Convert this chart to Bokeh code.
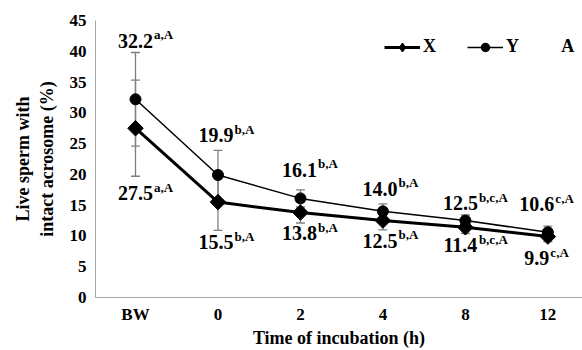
import math
from bokeh.plotting import figure
from bokeh.models import (Range1d, FixedTicker, ColumnDataSource, Whisker, TeeHead,
                          Legend, LegendItem, Label)
from bokeh.core.properties import value
from bokeh.embed import file_html
from bokeh.resources import INLINE

# ---- data ----
categories = ["BW", "0", "2", "4", "8", "12"]
x_mean = [27.5, 15.5, 13.8, 12.5, 11.4, 9.9]
x_err = [7.8, 4.6, 1.7, 1.5, 1.0, 0.8]
y_mean = [32.2, 19.9, 16.1, 14.0, 12.5, 10.6]
y_err = [7.6, 4.0, 1.4, 1.2, 0.9, 1.0]
x_letters = ["a,A", "b,A", "b,A", "b,A", "b,c,A", "c,A"]
y_letters = ["a,A", "b,A", "b,A", "b,A", "b,c,A", "c,A"]
y_ticks = [0, 5, 10, 15, 20, 25, 30, 35, 40, 45]

# ---- styling (pixel offsets of the value labels) ----
label_dx = [0, -2, -1, -3, -5, -11]
y_label_dy = [-12, -15, -20, -15, -12, -22]
x_label_dy = [17, 12, 10, 11, 12, 17]

FONT = "'Liberation Serif', 'Times New Roman', serif"
NUM_FS = 20
SUP_FS = 13
AXIS_GRAY = "#a6a6a6"
ERR_GRAY = "#7f7f7f"

pos = list(range(len(categories)))

p = figure(width=582, height=350, output_backend="svg", toolbar_location=None,
           x_range=Range1d(-0.485, 5.42), y_range=Range1d(0, 45),
           min_border_left=95, min_border_top=20, min_border_bottom=53, min_border_right=0)
p.outline_line_color = None
p.grid.grid_line_color = None
p.background_fill_color = "white"

# axes
for ax in (p.xaxis, p.yaxis):
    ax.axis_line_color = AXIS_GRAY
    ax.major_tick_line_color = None
    ax.minor_tick_line_color = None
    ax.major_tick_out = 0
    ax.major_tick_in = 0
    ax.minor_tick_out = 0
    ax.minor_tick_in = 0
    ax.major_label_text_font = FONT
    ax.major_label_text_font_style = "bold"
    ax.major_label_text_font_size = "17px"
    ax.major_label_text_color = "black"
    ax.axis_label_text_font = FONT
    ax.axis_label_text_font_style = "bold"
    ax.axis_label_text_font_size = "18px"
    ax.axis_label_text_color = "black"

p.xaxis.ticker = FixedTicker(ticks=pos)
p.xaxis.major_label_overrides = {i: c for i, c in zip(pos, categories)}
p.xaxis.major_label_standoff = 7
p.xaxis.axis_label = "Time of incubation (h)"
p.xaxis.axis_label_standoff = 1

p.yaxis.ticker = FixedTicker(ticks=y_ticks)
p.yaxis.major_label_standoff = 9
p.yaxis.axis_label = "Live sperm with\nintact acrosome (%)"
p.yaxis.axis_label_standoff = 10


def num_width(s, fs):
    return sum(0.25 * fs if ch == "." else 0.5 * fs for ch in s)


def series(mean, err, letters, dy_list, lw, marker, msize, angle, cap_sign,
           leg_marker, leg_size):
    src = ColumnDataSource(dict(
        x=pos, y=mean,
        upper=[m + e for m, e in zip(mean, err)],
        lower=[m - e for m, e in zip(mean, err)],
    ))
    w = Whisker(base="x", upper="upper", lower="lower", source=src, dimension="height",
                line_color=ERR_GRAY, line_width=1.3,
                upper_head=TeeHead(size=9, line_color=ERR_GRAY, line_width=1.3),
                lower_head=TeeHead(size=9, line_color=ERR_GRAY, line_width=1.3))
    p.add_layout(w)
    ln = p.line("x", "y", source=src, line_color="black", line_width=lw)
    p.scatter("x", "y", source=src, marker=marker, size=msize, angle=angle,
              fill_color="black", line_color="black")
    # marker shown only in the legend
    lm = p.scatter("x", "y", source=src, marker=leg_marker, size=leg_size,
                   fill_color="black", line_color="black", line_width=1.5,
                   visible=False)
    # value labels
    anchor = [m + cap_sign * e for m, e in zip(mean, err)]
    nums = [f"{m:.1f}" for m in mean]
    lsrc = ColumnDataSource(dict(
        x=pos, y=anchor, num=nums, sup=letters,
        dx=label_dx,
        dy=dy_list,
        sdx=[d + num_width(n, NUM_FS) / 2 + 1 for d, n in zip(label_dx, nums)],
        sdy=[d - 6 for d in dy_list],
    ))
    p.text("x", "y", text="num", source=lsrc, x_offset="dx", y_offset="dy",
           text_font=value(FONT), text_font_style="bold",
           text_font_size=f"{NUM_FS}px", text_align="center", text_baseline="middle",
           text_color="black")
    p.text("x", "y", text="sup", source=lsrc, x_offset="sdx", y_offset="sdy",
           text_font=value(FONT), text_font_style="bold",
           text_font_size=f"{SUP_FS}px", text_align="left", text_baseline="middle",
           text_color="black")
    return ln, lm


lx, mx = series(x_mean, x_err, x_letters, x_label_dy, 3, "square", 11, math.pi / 4, -1,
                "diamond", 15)
ly, my = series(y_mean, y_err, y_letters, y_label_dy, 1.5, "circle", 11, 0, 1,
                "circle", 10)

legend = Legend(items=[LegendItem(label="X", renderers=[lx, mx]),
                       LegendItem(label="Y", renderers=[ly, my])],
                orientation="horizontal", location=(289, 240),
                glyph_width=36, glyph_height=20, label_standoff=3, spacing=24,
                padding=0, margin=0, background_fill_alpha=0, border_line_color=None,
                label_text_font=FONT, label_text_font_style="bold",
                label_text_font_size="18px", label_text_color="black")
p.add_layout(legend)

p.add_layout(Label(x=5.24, y=40.9, text="A", text_font=FONT, text_font_style="bold",
                   text_font_size="18px", text_align="center", text_baseline="middle",
                   text_color="black"))

open("out.html", "w").write(file_html(p, INLINE))
